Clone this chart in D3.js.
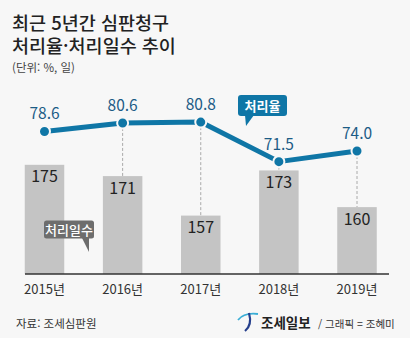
<!DOCTYPE html>
<html lang="ko">
<head>
<meta charset="UTF-8">
<title>최근 5년간 심판청구 처리율·처리일수 추이</title>
<script src="https://d3js.org/d3.v7.min.js"></script>
<style>
  html, body { margin: 0; padding: 0; background: #f7f7f7; }
  svg { display: block; font-family: "Noto Sans CJK KR", "Noto Sans", sans-serif; }
</style>
</head>
<body>
<svg width="410" height="338"></svg>
<script>
const years = ["2015년", "2016년", "2017년", "2018년", "2019년"];
const rate = [78.6, 80.6, 80.8, 71.5, 74.0];   // 처리율 (%)
const days = [175, 171, 157, 173, 160];        // 처리일수 (일)

const svg = d3.select("svg");
const W = 410, H = 338;
const base = 274;

svg.append("rect").attr("width", W).attr("height", H).attr("fill", "#f7f7f7");

const x = d3.scalePoint().domain(years).range([44.5, 357]);
const barW = 39.5;
const yBar = d3.scaleLinear().domain([136.3, 180]).range([base, 150.7]);
const yLine = d3.scaleLinear().domain([70, 82]).range([168, 117]);

// title
svg.append("text").attr("x", 12).attr("y", 29.5)
  .attr("font-size", 18.5).attr("font-weight", 500).attr("fill", "#222")
  .text("최근 5년간 심판청구");
svg.append("text").attr("x", 12).attr("y", 52.5)
  .attr("font-size", 18.5).attr("font-weight", 500).attr("fill", "#222")
  .text("처리율·처리일수 추이");
svg.append("text").attr("x", 12).attr("y", 72)
  .attr("font-size", 11.5).attr("fill", "#444")
  .text("(단위: %, 일)");

// bars
svg.selectAll(".bar").data(days).join("rect")
  .attr("class", "bar")
  .attr("x", (d, i) => x(years[i]) - barW / 2)
  .attr("y", d => yBar(d))
  .attr("width", barW)
  .attr("height", d => base - yBar(d))
  .attr("fill", "#c4c4c4");

svg.selectAll(".barlbl").data(days).join("text")
  .attr("x", (d, i) => x(years[i]))
  .attr("y", d => yBar(d) + 17.5)
  .attr("text-anchor", "middle")
  .attr("font-size", 16).attr("fill", "#222")
  .text(d => d);

// dashed guides from point to bar top
svg.selectAll(".guide").data(rate.slice(1)).join("line")
  .attr("x1", (d, i) => x(years[i + 1])).attr("x2", (d, i) => x(years[i + 1]))
  .attr("y1", d => yLine(d))
  .attr("y2", (d, i) => yBar(days[i + 1]))
  .attr("stroke", "#aaa").attr("stroke-width", 1).attr("stroke-dasharray", "3,2");

// axis line
svg.append("line").attr("x1", 25).attr("x2", 389).attr("y1", base).attr("y2", base)
  .attr("stroke", "#333").attr("stroke-width", 1.5);

svg.selectAll(".year").data(years).join("text")
  .attr("x", d => x(d)).attr("y", 294)
  .attr("text-anchor", "middle")
  .attr("font-size", 13).attr("fill", "#333")
  .text(d => d);

// rate line
const line = d3.line().x((d, i) => x(years[i])).y(d => yLine(d));
svg.append("path").datum(rate).attr("d", line)
  .attr("fill", "none").attr("stroke", "#0f76a6").attr("stroke-width", 5)
  .attr("stroke-linejoin", "round");

svg.selectAll(".dot").data(rate).join("circle")
  .attr("cx", (d, i) => x(years[i])).attr("cy", d => yLine(d))
  .attr("r", 5.5).attr("fill", "#0f76a6")
  .attr("stroke", "#f7f7f7").attr("stroke-width", 2);

svg.selectAll(".ratelbl").data(rate).join("text")
  .attr("x", (d, i) => x(years[i])).attr("y", d => yLine(d) - 12)
  .attr("text-anchor", "middle")
  .attr("font-size", 15.5).attr("fill", "#1c5c86")
  .text(d => d.toFixed(1));

// callout: 처리율
const c1 = svg.append("g");
c1.append("rect").attr("x", 238).attr("y", 95).attr("width", 49).attr("height", 21)
  .attr("rx", 3).attr("fill", "#0f76a6");
c1.append("path").attr("d", "M245,115 L246,126 L254,115 Z").attr("fill", "#0f76a6");
c1.append("text").attr("x", 262.5).attr("y", 110.5).attr("text-anchor", "middle")
  .attr("font-size", 13).attr("font-weight", 700).attr("fill", "#fff").text("처리율");

// callout: 처리일수
const c2 = svg.append("g");
c2.append("rect").attr("x", 44).attr("y", 220.5).attr("width", 50).attr("height", 18)
  .attr("rx", 2.5).attr("fill", "#6d6d6d");
c2.append("path").attr("d", "M82,238 L89,252 L89,238 Z").attr("fill", "#6d6d6d");
c2.append("text").attr("x", 69).attr("y", 234.5).attr("text-anchor", "middle")
  .attr("font-size", 13).attr("font-weight", 500).attr("fill", "#fff").text("처리일수");

// footer
svg.append("text").attr("x", 16).attr("y", 328)
  .attr("font-size", 11.5).attr("fill", "#333").text("자료: 조세심판원");

svg.append("path").attr("d", "M238,320 C242,315 250,313 258,314")
  .attr("fill", "none").attr("stroke", "#3aaed6").attr("stroke-width", 1.8);
svg.append("path").attr("d", "M249,313 C251,320 250,327 245,331")
  .attr("fill", "none").attr("stroke", "#253f8c").attr("stroke-width", 2.2);

svg.append("text").attr("x", 261).attr("y", 328)
  .attr("font-size", 13.5).attr("font-weight", 700).attr("fill", "#222").text("조세일보");
svg.append("text").attr("x", 318).attr("y", 328)
  .attr("font-size", 10.5).attr("fill", "#333").text("/ 그래픽 = 조혜미");
</script>
</body>
</html>
